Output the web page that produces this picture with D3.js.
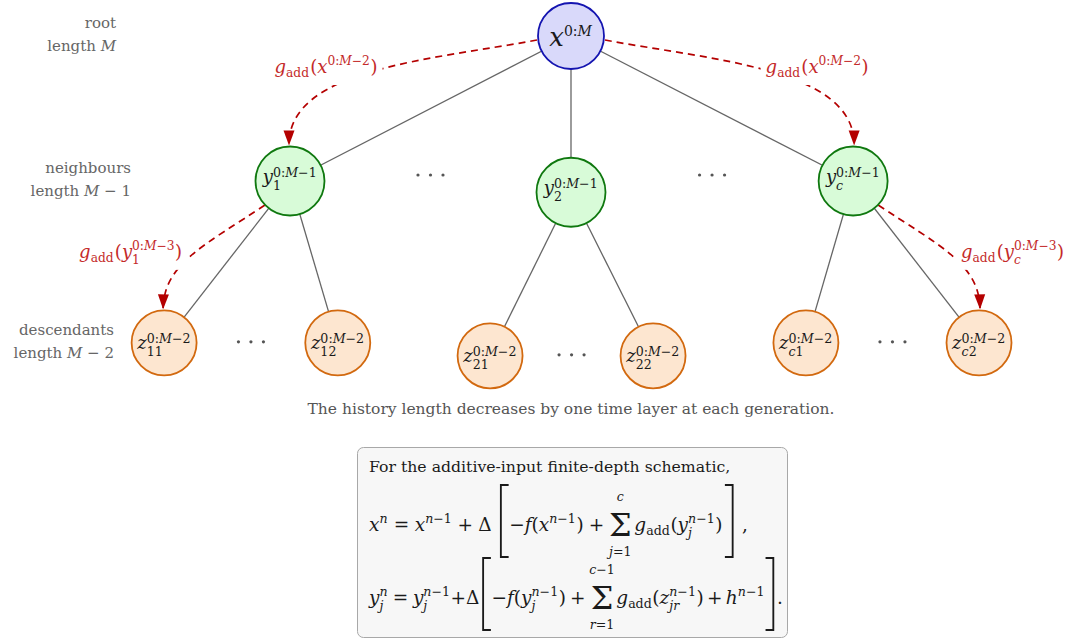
<!DOCTYPE html>
<html>
<head>
<meta charset="utf-8">
<script src="https://cdn.jsdelivr.net/npm/d3@7"></script>
<style>
  body { margin: 0; background: #fff; }
  svg { display: block; }
</style>
</head>
<body>
<div id="chart"></div>
<script>
// Tree of histories: root, its neighbours, their descendants
const nodeIds     = ['x', 'y1', 'y2', 'yc', 'z11', 'z12', 'z21', 'z22', 'zc1', 'zc2'];
const nodeParents = [null, 'x', 'x', 'x', 'y1', 'y1', 'y2', 'y2', 'yc', 'yc'];
const nodeGen     = [0, 1, 1, 1, 2, 2, 2, 2, 2, 2];
const nodeCol     = [0, -5.0, 0, 5.02, -7.24, -4.15, -1.44, 1.46, 4.18, 7.26];
const nodeRow     = [0, 2.58, 2.78, 2.58, 5.46, 5.46, 5.69, 5.69, 5.46, 5.46];
const nodeBase    = ['x', 'y', 'y', 'y', 'z', 'z', 'z', 'z', 'z', 'z'];
const nodeSub     = ['', '1', '2', 'c', '11', '12', '21', '22', 'c1', 'c2'];
const nodeSup     = ['0:M', '0:M−1', '0:M−1', '0:M−1', '0:M−2', '0:M−2', '0:M−2', '0:M−2', '0:M−2', '0:M−2'];

// generation labels on the left
const genNames   = ['root', 'neighbours', 'descendants'];
const genLengths = ['', ' − 1', ' − 2'];

// "· · ·" between these siblings
const gapPairs = [['y1', 'y2'], ['y2', 'yc'], ['z11', 'z12'], ['z21', 'z22'], ['zc1', 'zc2']];

// red dashed input arrows
const flowFrom   = ['x', 'x', 'y1', 'yc'];
const flowTo     = ['y1', 'yc', 'z11', 'zc2'];
const flowArg    = ['x', 'x', 'y', 'y'];
const flowArgSub = ['', '', '1', 'c'];
const flowArgSup = ['0:M−2', '0:M−2', '0:M−3', '0:M−3'];

const caption  = 'The history length decreases by one time layer at each generation.';
const boxIntro = 'For the additive-input finite-depth schematic,';

const SERIF = "'DejaVu Serif', 'Liberation Serif', serif";
const W = 1070, H = 641;

const genFill   = ['#d9d9fa', '#d8fbd8', '#fde6d0'];
const genStroke = ['#1414b0', '#0f780f', '#d2690f'];
const genR      = [33, 34.5, 32.5];
const RED = '#b40000', RED_TXT = '#c42a2a', INK = '#1a1a1a';

const svg = d3.select('#chart').append('svg')
    .attr('width', W).attr('height', H)
    .attr('font-family', SERIF);

const unit = 56.2;
const x = d3.scaleLinear().domain([0, 1]).range([571, 571 + unit]);
const y = d3.scaleLinear().domain([0, 1]).range([36, 36 + unit]);

const nodes = nodeIds.map((id, i) => ({
    id, parent: nodeParents[i], gen: nodeGen[i],
    cx: x(nodeCol[i]), cy: y(nodeRow[i]),
    base: nodeBase[i], sub: nodeSub[i], sup: nodeSup[i]
}));
const byId = Object.fromEntries(nodes.map(d => [d.id, d]));

// ---- little math typesetter: latin letters italic, the rest upright
function mtext(g, px, py, str, size, color, roman) {
    const t = g.append('text').attr('x', px).attr('y', py)
        .attr('font-size', size).attr('fill', color);
    (roman ? [str] : str.match(/[A-Za-z]+|[^A-Za-z]+/g)).forEach(r => {
        t.append('tspan')
            .attr('font-style', !roman && /[A-Za-z]/.test(r) ? 'italic' : null)
            .text(r);
    });
    return t;
}
const tlen = t => t.node().getComputedTextLength();

function mrow(g, toks, fs, color, o = {}) {
    const k = o.k || 0.68, up = o.up || 0.42, dn = o.dn || 0.22, dn2 = o.dn2 || 0.34;
    let cx = 0;
    toks.forEach(tk => {
        if (tk.sp !== undefined) { cx += tk.sp * fs; return; }
        if (tk.br) {
            const arm = 0.42 * fs;
            const xv = tk.br === '[' ? cx + 0.2 * fs : cx + 0.45 * fs;
            const xa = tk.br === '[' ? xv + arm : xv - arm;
            g.append('path').attr('d', `M${xa},${o.brTop}H${xv}V${o.brBot}H${xa}`)
                .attr('fill', 'none').attr('stroke', color).attr('stroke-width', 0.1 * fs);
            cx += 0.65 * fs; return;
        }
        if (tk.sum) {
            const lims = [[tk.above, o.limUp], [tk.below, o.limDn]]
                .map(([s, yy]) => mtext(g, 0, yy, s, fs * k, color).attr('text-anchor', 'middle'));
            const s = mtext(g, cx, o.sumBase, 'Σ', o.sumSize, color, true);
            const ws = tlen(s);
            const wmax = Math.max(ws, ...lims.map(tlen));
            s.attr('x', cx + (wmax - ws) / 2);
            lims.forEach(l => l.attr('x', cx + wmax / 2));
            cx += wmax; return;
        }
        if (tk.sup !== undefined || tk.sub !== undefined) {
            let w = 0;
            if (tk.sup) w = Math.max(w, tlen(mtext(g, cx, -up * fs, tk.sup, fs * k, color)));
            if (tk.sub) w = Math.max(w, tlen(mtext(g, cx, (tk.sup ? dn2 : dn) * fs, tk.sub, fs * k, color, tk.roman)));
            cx += w + 0.03 * fs; return;
        }
        cx += tlen(mtext(g, cx, 0, tk.t, fs * (tk.k || 1), color, tk.roman));
    });
    return cx;
}

// ---- generation labels
genNames.forEach((name, i) => {
    const rowY = d3.min(nodes.filter(n => n.gen === i), n => n.cy);
    const rx = [116, 131, 114][i];
    const t = svg.append('text').attr('text-anchor', 'end').attr('fill', '#666')
        .attr('font-size', 15);
    t.append('tspan').attr('x', rx).attr('y', rowY - 8).text(name);
    t.append('tspan').attr('x', rx).attr('y', rowY + 15).text('length ');
    t.append('tspan').attr('font-style', 'italic').text('M');
    t.append('tspan').text(genLengths[i]);
});

// ---- tree edges
svg.append('g').selectAll('line')
    .data(nodes.filter(d => d.parent))
    .join('line')
    .attr('x1', d => byId[d.parent].cx).attr('y1', d => byId[d.parent].cy)
    .attr('x2', d => d.cx).attr('y2', d => d.cy)
    .attr('stroke', '#666').attr('stroke-width', 1.3);

// ---- ellipsis dots between siblings
gapPairs.forEach(([a, b]) => {
    const A = byId[a], B = byId[b];
    const mx = (A.cx + B.cx) / 2;
    const my = Math.min(A.cy, B.cy) - (A.gen === 1 ? 6 : 1);
    svg.append('g').selectAll('circle').data([-1, 0, 1]).join('circle')
        .attr('cx', d => mx + d * 12.5).attr('cy', my).attr('r', 1.6)
        .attr('fill', '#555');
});

// ---- red dashed flows
svg.append('defs').append('marker')
    .attr('id', 'tip').attr('markerUnits', 'userSpaceOnUse')
    .attr('viewBox', '0 -6 15 12').attr('refX', 14).attr('refY', 0)
    .attr('markerWidth', 15).attr('markerHeight', 12).attr('orient', 'auto')
    .append('path').attr('d', 'M0,-5.5L15,0L0,5.5Z').attr('fill', RED);

const flowG = svg.append('g');
flowFrom.forEach((f, i) => {
    const A = byId[f], B = byId[flowTo[i]];
    const s = B.cx < A.cx ? -1 : 1;
    const top = A.gen === 0;
    const end = [B.cx + s * 1, B.cy - genR[B.gen] - 2];
    let p0, c1, c2, lab;
    if (top) {
        p0 = [A.cx + s * 34, A.cy + 4];
        c1 = [p0[0] + s * 107, p0[1] + 20];
        c2 = [end[0], end[1] - 76];
        lab = [B.cx - s * 36, B.cy - 108];
    } else {
        p0 = [A.cx + s * 25, A.cy + 24];
        c1 = [p0[0] + s * 60, p0[1] + 40];
        c2 = [end[0] - s * 1, end[1] - 45];
        lab = [B.cx + s * 33.5, B.cy - 85];
    }
    const path = d3.path();
    path.moveTo(...p0);
    path.bezierCurveTo(...c1, ...c2, ...end);
    flowG.append('path').attr('d', path.toString())
        .attr('fill', 'none').attr('stroke', RED).attr('stroke-width', 1.7)
        .attr('stroke-dasharray', '7 5').attr('marker-end', 'url(#tip)');

    const lg = flowG.append('g');
    const bg = lg.append('rect').attr('fill', '#fff');
    const inner = lg.append('g');
    const w = mrow(inner, [
        { t: 'g' }, { sub: 'add', roman: true }, { sp: 0.04 },
        { t: '(' + flowArg[i] }, { sup: flowArgSup[i], sub: flowArgSub[i] || undefined },
        { t: ')' }
    ], 18, RED_TXT, { k: 0.68, up: 0.42, dn: 0.24, dn2: 0.36 });
    inner.attr('transform', `translate(${lab[0] - w / 2},${lab[1]})`);
    bg.attr('x', lab[0] - w / 2 - 5).attr('y', lab[1] - 18)
        .attr('width', w + 10).attr('height', 30);
});

// ---- nodes
const ng = svg.append('g').selectAll('g').data(nodes).join('g');
ng.append('circle')
    .attr('cx', d => d.cx).attr('cy', d => d.cy).attr('r', d => genR[d.gen])
    .attr('fill', d => genFill[d.gen]).attr('stroke', d => genStroke[d.gen])
    .attr('stroke-width', 1.8);
ng.each(function (d) {
    const inner = d3.select(this).append('g');
    const root = d.gen === 0;
    const w = mrow(inner, [{ t: d.base }, { sup: d.sup, sub: d.sub || undefined }],
        root ? 26 : 18, INK,
        root ? { k: 0.54, up: 0.38 } : { k: 0.7, up: 0.34, dn2: 0.4 });
    const dy = root ? 10 : (d.gen === 1 ? 2 : 6);
    inner.attr('transform', `translate(${d.cx - w / 2},${d.cy + dy})`);
});

// ---- caption
svg.append('text').attr('x', 571).attr('y', 414).attr('text-anchor', 'middle')
    .attr('fill', '#555').attr('font-size', 15.5).text(caption);

// ---- equation box
svg.append('rect').attr('x', 357.5).attr('y', 447.5).attr('width', 430).attr('height', 190)
    .attr('rx', 6).attr('fill', '#f7f7f7').attr('stroke', '#a8a8a8').attr('stroke-width', 1);
svg.append('text').attr('x', 369).attr('y', 472).attr('fill', INK)
    .attr('font-size', 15.7).text(boxIntro);

const eqOpts = { k: 0.68, up: 0.42, dn: 0.24, dn2: 0.34,
    brTop: -46, brBot: 26, sumBase: 5, sumSize: 32, limUp: -30, limDn: 25 };

const eq1 = svg.append('g').attr('transform', 'translate(369,531)');
mrow(eq1, [
    { t: 'x' }, { sup: 'n' }, { sp: 0.3 }, { t: '=' }, { sp: 0.3 }, { t: 'x' }, { sup: 'n−1' },
    { sp: 0.28 }, { t: '+' }, { sp: 0.28 }, { t: 'Δ' }, { sp: 0.3 }, { br: '[' },
    { t: '−f(x' }, { sup: 'n−1' }, { t: ')' }, { sp: 0.28 }, { t: '+' }, { sp: 0.25 },
    { sum: true, above: 'c', below: 'j=1' }, { sp: 0.15 },
    { t: 'g' }, { sub: 'add', roman: true }, { t: '(y' }, { sup: 'n−1', sub: 'j' }, { t: ')' },
    { sp: 0.1 }, { br: ']' }, { sp: 0.3 }, { t: ',' }
], 18.5, INK, eqOpts);

const eq2 = svg.append('g').attr('transform', 'translate(369,604)');
mrow(eq2, [
    { t: 'y' }, { sup: 'n', sub: 'j' }, { sp: 0.25 }, { t: '=' }, { sp: 0.25 },
    { t: 'y' }, { sup: 'n−1', sub: 'j' }, { t: '+Δ' }, { br: '[' },
    { t: '−f(y' }, { sup: 'n−1', sub: 'j' }, { t: ')' }, { sp: 0.22 }, { t: '+' }, { sp: 0.2 },
    { sum: true, above: 'c−1', below: 'r=1' }, { sp: 0.08 },
    { t: 'g' }, { sub: 'add', roman: true }, { t: '(z' }, { sup: 'n−1', sub: 'jr' }, { t: ')' },
    { sp: 0.18 }, { t: '+' }, { sp: 0.18 }, { t: 'h' }, { sup: 'n−1' },
    { br: ']' }, { t: '.' }
], 18.5, INK, eqOpts);
</script>
</body>
</html>
